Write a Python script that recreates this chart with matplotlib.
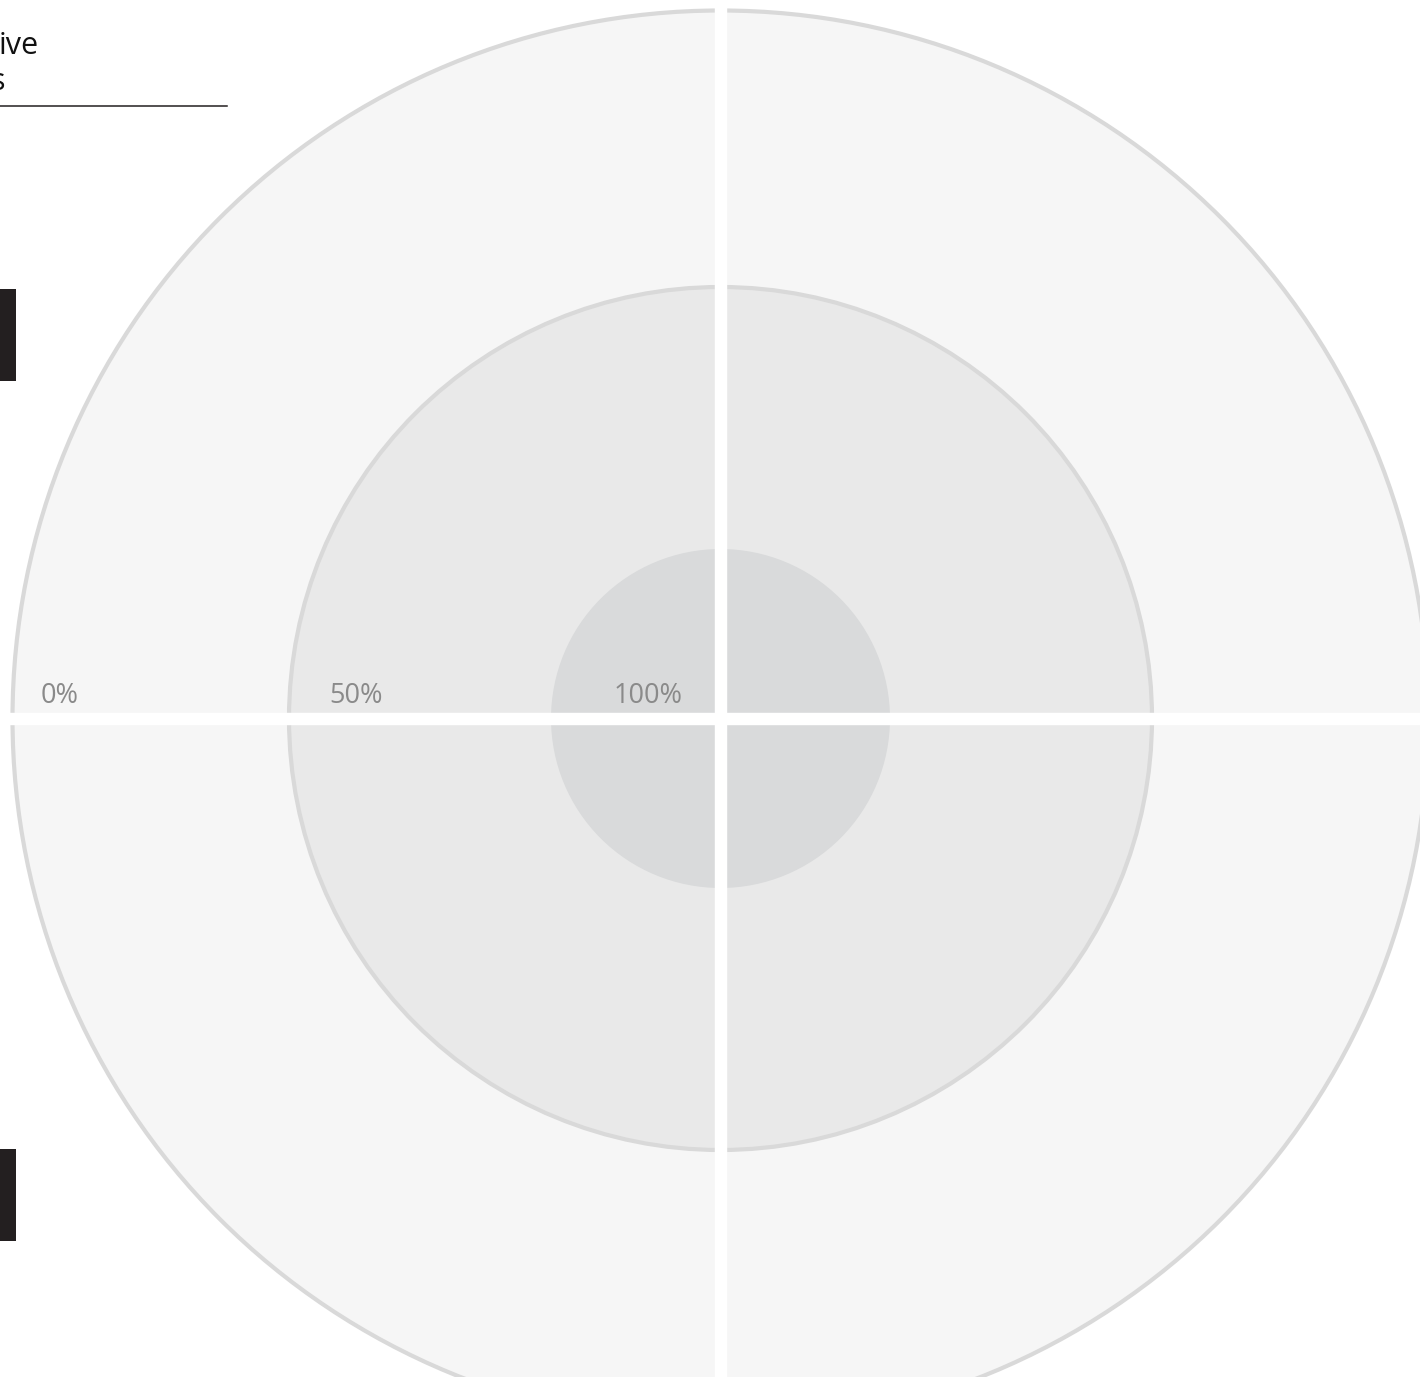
import matplotlib.pyplot as plt
from matplotlib.patches import Circle, Rectangle

# rings, outermost first
ring_labels = ["0%", "50%", "100%"]
ring_radius = [708, 431.5, 169.5]
ring_fill = ["#f6f6f6", "#e9e9e9", "#d9dadb"]
ring_edge = ["#d9d9d9", "#d9d9d9", "none"]
# label centres, distance left of the chart centre
label_offset = [660.5, 364.5, 72]

cx, cy = 720.5, 718.5
gap = 11

plt.rcParams['font.family'] = ['Open Sans', 'DejaVu Sans']
fig = plt.figure(figsize=(14.2, 13.77), dpi=100)
ax = fig.add_axes([0, 0, 1, 1])
ax.set_xlim(0, 1420)
ax.set_ylim(1377, 0)
ax.axis('off')

for r, fc, ec in zip(ring_radius, ring_fill, ring_edge):
    ax.add_patch(Circle((cx, cy), r, fc=fc, ec=ec, lw=3, zorder=2))

# white cross splitting the quadrants
ax.axvspan(cx - gap / 2, cx + gap / 2, color="white", zorder=5)
ax.axhspan(cy - gap / 2, cy + gap / 2, color="white", zorder=5)

for lab, off in zip(ring_labels, label_offset):
    ax.text(cx - off, 703, lab, ha="center", va="baseline", fontsize=19.5,
            color="#8a8a8a", zorder=6)

# cut-off heading and legend swatches on the left
ax.text(-1, 54, "ive", ha="left", va="baseline", fontsize=22, color="#111111")
ax.text(-9, 90, "s", ha="left", va="baseline", fontsize=22, color="#111111")
ax.plot([0, 227], [106, 106], color="#231f20", lw=1.1)
ax.add_patch(Rectangle((0, 289), 16, 92, fc="#231f20", ec="none"))
ax.add_patch(Rectangle((0, 1149), 16, 92, fc="#231f20", ec="none"))

fig.savefig("out.png", dpi=100)
